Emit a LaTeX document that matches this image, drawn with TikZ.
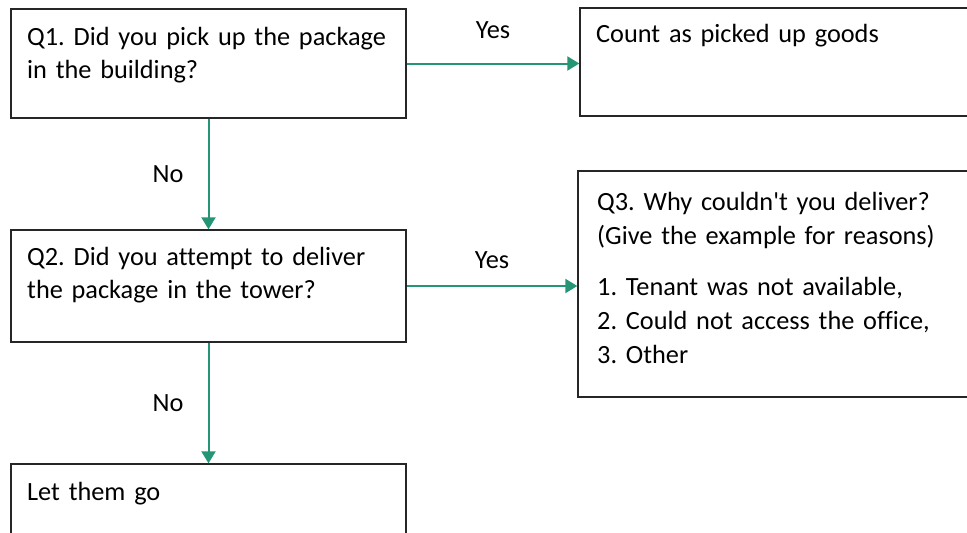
\documentclass[tikz,border=0pt]{standalone}
\usepackage{fontspec}
\setmainfont{Carlito}[Ligatures=NoCommon]
\usetikzlibrary{arrows.meta, positioning}

\definecolor{flowgreen}{RGB}{36,150,118}

\tikzset{
    box/.style={draw=black!85, line width=1.3pt, inner sep=0pt},
    txt/.style={anchor=base west, align=left, inner sep=0pt, text width=420pt,
        font=\fontsize{26.3}{33}\selectfont\frenchspacing},
    lbl/.style={inner sep=0pt, font=\fontsize{26.3}{33}\selectfont},
    flow/.style={draw=flowgreen, line width=2pt, -{Triangle[width=14pt,length=12pt]}}
}

\begin{document}
\begin{tikzpicture}[x=1pt, y=-1pt]
    \clip (0,0) rectangle (967,533);

    % Boxes
    \node[box, minimum width=395pt, minimum height=109pt] (q1) at (208.5,63.5) {};
    \node[box, minimum width=400pt, minimum height=108pt] (count) at (780,62) {};
    \node[box, minimum width=395pt, minimum height=112pt] (q2) at (208.5,286) {};
    \node[box, minimum width=402pt, minimum height=226pt] (q3) at (779,284) {};
    \node[box, minimum width=395pt, minimum height=81pt] (letgo) at (208.5,504.5) {};

    % Texts in the boxes
    \node[txt] (q1text) at (27,45) {Q1. Did you pick up the package\\in the building?};
    \node[txt] (counttext) at (596,42) {Count as picked up goods};
    \node[txt] (q2text) at (27,265) {Q2. Did you attempt to deliver\\the package in the tower?};
    \node[txt, font=\fontsize{26.3}{34}\selectfont\frenchspacing] (q3text) at (597,210)
        {Q3. Why couldn\textquotesingle t you deliver?\\(Give the example for reasons)\\[17pt]
         1. Tenant was not available,\\2. Could not access the office,\\3. Other};
    \node[txt] (letgotext) at (27,500) {Let them go};

    % Connectors
    \draw[flow] (q1.east) -- node[lbl, midway, above=24pt] (yes1) {Yes} (q1.east -| count.west);
    \draw[flow] (q1.south) -- node[lbl, midway, left=24pt] (no1) {No} (q2.north);
    \draw[flow] (q2.east) -- node[lbl, midway, above=16pt] (yes2) {Yes} (q2.east -| q3.west);
    \draw[flow] (q2.south) -- node[lbl, midway, left=24pt] (no2) {No} (letgo.north);
\end{tikzpicture}
\end{document}
